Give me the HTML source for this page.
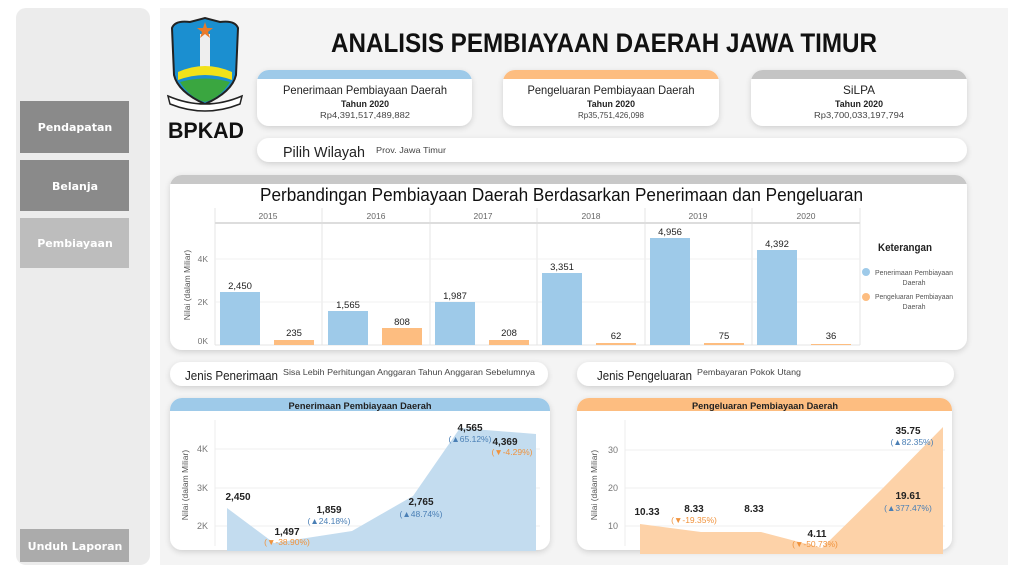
<!DOCTYPE html>
<html><head><meta charset="utf-8"><style>
html,body{margin:0;padding:0;background:#fff;}
svg{display:block;font-family:"Liberation Sans",sans-serif;}
</style></head><body>
<svg width="1024" height="575" viewBox="0 0 1024 575" xmlns="http://www.w3.org/2000/svg">
<defs>
<filter id="sh" x="-10%" y="-20%" width="120%" height="150%"><feDropShadow dx="0" dy="2" stdDeviation="3" flood-color="#000" flood-opacity="0.15"/></filter>
<clipPath id="c1"><rect x="257" y="70" width="215" height="56" rx="12"/></clipPath>
<clipPath id="c2"><rect x="503" y="70" width="216" height="56" rx="12"/></clipPath>
<clipPath id="c3"><rect x="751" y="70" width="216" height="56" rx="12"/></clipPath>
<clipPath id="c4"><rect x="170" y="175" width="797" height="175" rx="12"/></clipPath>
<clipPath id="c5"><rect x="170" y="398" width="380" height="152" rx="12"/></clipPath>
<clipPath id="c6"><rect x="577" y="398" width="375" height="152" rx="12"/></clipPath>
</defs>
<rect x="160" y="8" width="848" height="557" fill="#f4f4f4"/>
<rect x="16" y="8" width="134" height="557" rx="10" fill="#ececec"/>
<rect x="20" y="101" width="109" height="52" fill="#8a8a8a"/>
<rect x="20" y="160" width="109" height="51" fill="#8a8a8a"/>
<rect x="20" y="218" width="109" height="50" fill="#bdbdbd"/>
<rect x="20" y="529" width="109" height="33" fill="#ababab"/>
<g font-family="'DejaVu Sans',sans-serif" font-weight="bold" font-size="11" fill="#fff" text-anchor="middle">
<text x="75" y="131">Pendapatan</text><text x="75" y="190">Belanja</text><text x="75" y="247">Pembiayaan</text><text x="75" y="550">Unduh Laporan</text></g>

<path d="M172 28 Q175 20 190 22 L205 18 L220 22 Q235 20 238 28 L236 75 Q232 92 205 104 Q178 92 174 75 Z" fill="#1b8fd0" stroke="#222" stroke-width="2"/>
<rect x="200" y="34" width="10" height="40" fill="#eee"/>
<path d="M178 72 Q205 60 232 72 L232 80 Q205 70 178 80Z" fill="#f2e21a"/>
<path d="M180 82 Q205 75 230 82 Q220 98 205 102 Q190 98 180 82Z" fill="#3aa640"/>
<polygon points="205,22 207,28 213,28 208,32 210,38 205,34 200,38 202,32 197,28 203,28" fill="#e87a2a"/>
<path d="M168 96 Q205 112 242 96 L240 104 Q205 118 170 104Z" fill="#fff" stroke="#222" stroke-width="1.5"/>
<text x="168" y="138" font-weight="bold" font-size="22" fill="#111" textLength="76" lengthAdjust="spacingAndGlyphs">BPKAD</text>

<text x="604" y="52" text-anchor="middle" font-weight="bold" font-size="27" fill="#111" textLength="546" lengthAdjust="spacingAndGlyphs">ANALISIS PEMBIAYAAN DAERAH JAWA TIMUR</text>

<g filter="url(#sh)"><rect x="257" y="70" width="215" height="56" rx="12" fill="#fff"/><rect x="503" y="70" width="216" height="56" rx="12" fill="#fff"/><rect x="751" y="70" width="216" height="56" rx="12" fill="#fff"/></g>
<rect x="257" y="70" width="215" height="9" fill="#9ecae9" clip-path="url(#c1)"/>
<rect x="503" y="70" width="216" height="9" fill="#fdbd80" clip-path="url(#c2)"/>
<rect x="751" y="70" width="216" height="9" fill="#c4c4c4" clip-path="url(#c3)"/>
<g text-anchor="middle" fill="#222" lengthAdjust="spacingAndGlyphs">
<text x="365" y="94" font-size="12" textLength="164" lengthAdjust="spacingAndGlyphs">Penerimaan Pembiayaan Daerah</text><text x="365" y="107" font-size="9" font-weight="bold" textLength="48" lengthAdjust="spacingAndGlyphs">Tahun 2020</text><text x="365" y="118" font-size="8.5" fill="#444" textLength="90" lengthAdjust="spacingAndGlyphs">Rp4,391,517,489,882</text>
<text x="611" y="94" font-size="12" textLength="167" lengthAdjust="spacingAndGlyphs">Pengeluaran Pembiayaan Daerah</text><text x="611" y="107" font-size="9" font-weight="bold" textLength="48" lengthAdjust="spacingAndGlyphs">Tahun 2020</text><text x="611" y="118" font-size="8.5" fill="#444" textLength="66" lengthAdjust="spacingAndGlyphs">Rp35,751,426,098</text>
<text x="859" y="94" font-size="12" textLength="32" lengthAdjust="spacingAndGlyphs">SiLPA</text><text x="859" y="107" font-size="9" font-weight="bold" textLength="48" lengthAdjust="spacingAndGlyphs">Tahun 2020</text><text x="859" y="118" font-size="8.5" fill="#444" textLength="90" lengthAdjust="spacingAndGlyphs">Rp3,700,033,197,794</text>
</g>
<rect x="257" y="138" width="710" height="24" rx="12" fill="#fff" filter="url(#sh)"/>
<text x="283" y="157" font-size="15" fill="#222" textLength="82" lengthAdjust="spacingAndGlyphs">Pilih Wilayah</text><text x="376" y="153" font-size="8.5" fill="#444" textLength="70" lengthAdjust="spacingAndGlyphs">Prov. Jawa Timur</text>

<rect x="170" y="175" width="797" height="175" rx="12" fill="#fff" filter="url(#sh)"/>
<rect x="170" y="175" width="797" height="9" fill="#c8c8c8" clip-path="url(#c4)"/>
<text x="260" y="201" font-size="18" fill="#111" textLength="603" lengthAdjust="spacingAndGlyphs">Perbandingan Pembiayaan Daerah Berdasarkan Penerimaan dan Pengeluaran</text>
<g stroke="#e4e4e4" stroke-width="1">
<line x1="215" y1="208" x2="215" y2="345"/><line x1="322" y1="208" x2="322" y2="345"/><line x1="430" y1="208" x2="430" y2="345"/><line x1="537" y1="208" x2="537" y2="345"/><line x1="645" y1="208" x2="645" y2="345"/><line x1="752" y1="208" x2="752" y2="345"/><line x1="860" y1="208" x2="860" y2="345"/>
<line x1="215" y1="259" x2="860" y2="259" stroke="#f0f0f0"/><line x1="215" y1="302" x2="860" y2="302" stroke="#f0f0f0"/>
<line x1="215" y1="345" x2="860" y2="345"/>
</g>
<line x1="215" y1="223" x2="860" y2="223" stroke="#ddd" stroke-width="2"/>
<g font-size="8.5" fill="#666" text-anchor="middle">
<text x="268" y="219">2015</text><text x="376" y="219">2016</text><text x="483" y="219">2017</text><text x="591" y="219">2018</text><text x="698" y="219">2019</text><text x="806" y="219">2020</text></g>
<g font-size="8.5" fill="#777" text-anchor="end"><text x="208" y="262">4K</text><text x="208" y="305">2K</text><text x="208" y="344">0K</text></g>
<text transform="translate(190,285) rotate(-90)" text-anchor="middle" font-size="8.5" fill="#555">Nilai (dalam Miliar)</text>
<g fill="#9ecae9">
<rect x="220" y="292" width="40" height="53"/><rect x="328" y="311" width="40" height="34"/><rect x="435" y="302" width="40" height="43"/><rect x="542" y="273" width="40" height="72"/><rect x="650" y="238" width="40" height="107"/><rect x="757" y="250" width="40" height="95"/></g>
<g fill="#fdbd80">
<rect x="274" y="340" width="40" height="5"/><rect x="382" y="328" width="40" height="17"/><rect x="489" y="340" width="40" height="5"/><rect x="596" y="343" width="40" height="2"/><rect x="704" y="343" width="40" height="2"/><rect x="811" y="344" width="40" height="1"/></g>
<g font-size="9.5" fill="#222" text-anchor="middle">
<text x="240" y="289">2,450</text><text x="294" y="336">235</text>
<text x="348" y="308">1,565</text><text x="402" y="325">808</text>
<text x="455" y="299">1,987</text><text x="509" y="336">208</text>
<text x="562" y="270">3,351</text><text x="616" y="339">62</text>
<text x="670" y="235">4,956</text><text x="724" y="339">75</text>
<text x="777" y="247">4,392</text><text x="831" y="339">36</text></g>
<text x="878" y="251" font-size="11" font-weight="bold" fill="#222" textLength="54" lengthAdjust="spacingAndGlyphs">Keterangan</text>
<circle cx="866" cy="272" r="4" fill="#9ecae9"/><circle cx="866" cy="297" r="4" fill="#fdbd80"/>
<g font-size="7" fill="#555" text-anchor="middle"><text x="914" y="275" textLength="78" lengthAdjust="spacingAndGlyphs">Penerimaan Pembiayaan</text><text x="914" y="285">Daerah</text><text x="914" y="299" textLength="78" lengthAdjust="spacingAndGlyphs">Pengeluaran Pembiayaan</text><text x="914" y="309">Daerah</text></g>

<rect x="170" y="362" width="378" height="24" rx="12" fill="#fff" filter="url(#sh)"/>
<rect x="577" y="362" width="377" height="24" rx="12" fill="#fff" filter="url(#sh)"/>
<text x="185" y="380" font-size="13" fill="#222" textLength="93" lengthAdjust="spacingAndGlyphs">Jenis Penerimaan</text><text x="283" y="375" font-size="8.5" fill="#444" textLength="252" lengthAdjust="spacingAndGlyphs">Sisa Lebih Perhitungan Anggaran Tahun Anggaran Sebelumnya</text>
<text x="597" y="380" font-size="13" fill="#222" textLength="95" lengthAdjust="spacingAndGlyphs">Jenis Pengeluaran</text><text x="697" y="375" font-size="8.5" fill="#444" textLength="104" lengthAdjust="spacingAndGlyphs">Pembayaran Pokok Utang</text>

<rect x="170" y="398" width="380" height="152" rx="12" fill="#fff" filter="url(#sh)"/>
<rect x="170" y="398" width="380" height="13" fill="#9ecae9" clip-path="url(#c5)"/>
<text x="360" y="409" text-anchor="middle" font-size="9.5" font-weight="bold" fill="#222" textLength="143" lengthAdjust="spacingAndGlyphs">Penerimaan Pembiayaan Daerah</text>
<g stroke="#efefef"><line x1="215" y1="449" x2="540" y2="449"/><line x1="215" y1="488" x2="540" y2="488"/><line x1="215" y1="526" x2="540" y2="526"/></g>
<line x1="215" y1="420" x2="215" y2="546" stroke="#eee"/>
<g font-size="9" fill="#777" text-anchor="end"><text x="208" y="452">4K</text><text x="208" y="491">3K</text><text x="208" y="529">2K</text></g>
<text transform="translate(188,485) rotate(-90)" text-anchor="middle" font-size="8.5" fill="#555">Nilai (dalam Miliar)</text>
<polygon points="227,508 274,543 352,531 413,496 460,428 536,434 536,551 227,551" fill="#c3dcef"/>
<g font-size="10" font-weight="bold" fill="#222" text-anchor="middle">
<text x="238" y="500">2,450</text><text x="287" y="535">1,497</text><text x="329" y="513">1,859</text><text x="421" y="505">2,765</text><text x="470" y="431">4,565</text><text x="505" y="445">4,369</text></g>
<g font-size="8.5" text-anchor="middle">
<text x="287" y="545" fill="#f0923b">(▼-38.90%)</text><text x="329" y="524" fill="#4a7fb5">(▲24.18%)</text><text x="421" y="517" fill="#4a7fb5">(▲48.74%)</text><text x="470" y="442" fill="#4a7fb5">(▲65.12%)</text><text x="512" y="455" fill="#f0923b">(▼-4.29%)</text></g>

<rect x="577" y="398" width="375" height="152" rx="12" fill="#fff" filter="url(#sh)"/>
<rect x="577" y="398" width="375" height="13" fill="#fdbd80" clip-path="url(#c6)"/>
<text x="765" y="409" text-anchor="middle" font-size="9.5" font-weight="bold" fill="#222" textLength="146" lengthAdjust="spacingAndGlyphs">Pengeluaran Pembiayaan Daerah</text>
<g stroke="#efefef"><line x1="625" y1="450" x2="945" y2="450"/><line x1="625" y1="488" x2="945" y2="488"/><line x1="625" y1="526" x2="945" y2="526"/></g>
<line x1="625" y1="420" x2="625" y2="546" stroke="#eee"/>
<g font-size="9" fill="#777" text-anchor="end"><text x="618" y="453">30</text><text x="618" y="491">20</text><text x="618" y="529">10</text></g>
<text transform="translate(597,485) rotate(-90)" text-anchor="middle" font-size="8.5" fill="#555">Nilai (dalam Miliar)</text>
<polygon points="640,524 701,532 761,532 822,548 882,489 943,427 943,554 640,554" fill="#fdd2a8"/>
<g font-size="10" font-weight="bold" fill="#222" text-anchor="middle">
<text x="647" y="515">10.33</text><text x="694" y="512">8.33</text><text x="754" y="512">8.33</text><text x="817" y="537">4.11</text><text x="908" y="499">19.61</text><text x="908" y="434">35.75</text></g>
<g font-size="8.5" text-anchor="middle">
<text x="694" y="523" fill="#f0923b">(▼-19.35%)</text><text x="815" y="547" fill="#f0923b">(▼-50.73%)</text><text x="908" y="511" fill="#4a7fb5">(▲377.47%)</text><text x="912" y="445" fill="#4a7fb5">(▲82.35%)</text></g>
</svg>
</body></html>
